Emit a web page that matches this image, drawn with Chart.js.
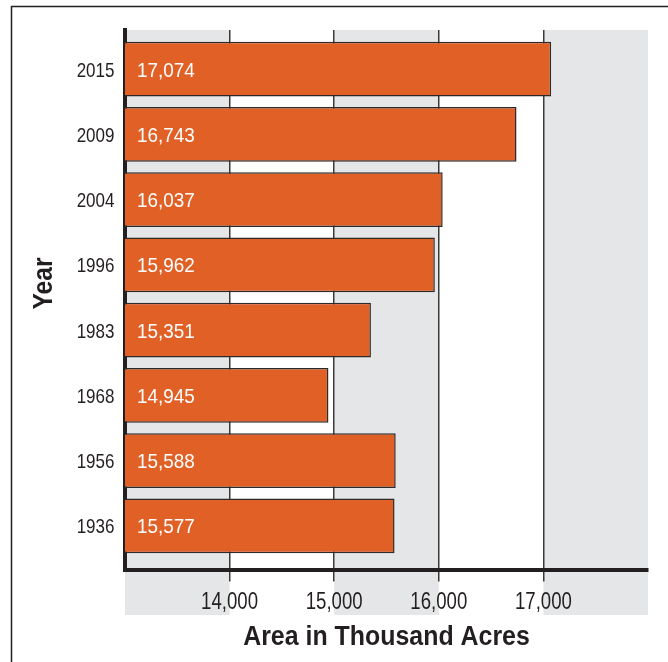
<!DOCTYPE html>
<html>
<head>
<meta charset="utf-8">
<script src="https://cdn.jsdelivr.net/npm/chart.js@4"></script>
<style>
  html, body { margin: 0; padding: 0; background: #fff; }
  #wrap { width: 668px; height: 662px; position: relative; }
</style>
</head>
<body>
<div id="wrap"><canvas id="c" width="668" height="662"></canvas></div>
<script>
const years = ['2015', '2009', '2004', '1996', '1983', '1968', '1956', '1936'];
const areas = [17074, 16743, 16037, 15962, 15351, 14945, 15588, 15577];
const xTicks = [14000, 15000, 16000, 17000];
const xTitle = 'Area in Thousand Acres';
const yTitle = 'Year';

const FONT = '"Liberation Sans", Arial, sans-serif';
const DARK = '#231f20';
const BAND = '#e5e6e8';

// draw horizontally condensed text (Arial-Narrow look)
function narrowText(ctx, text, x, y, opts) {
  const size = opts.size, sx = opts.sx || 0.81;
  ctx.save();
  ctx.font = (opts.bold ? 'bold ' : '') + size + 'px ' + FONT;
  ctx.fillStyle = opts.color || DARK;
  ctx.textAlign = opts.align || 'left';
  ctx.textBaseline = 'alphabetic';
  ctx.translate(x, y);
  if (opts.rotate) ctx.rotate(opts.rotate);
  ctx.scale(sx, 1);
  ctx.fillText(text, 0, 0);
  ctx.restore();
}

const decorPlugin = {
  id: 'decor',
  beforeDraw(chart) {
    const ctx = chart.ctx, ca = chart.chartArea, xs = chart.scales.x;
    ctx.save();
    ctx.fillStyle = '#fff';
    ctx.fillRect(0, 0, chart.width, chart.height);
    ctx.fillStyle = BAND;
    const edges = [xs.min].concat(xTicks).concat([xs.max]);
    for (let i = 0; i < edges.length - 1; i += 2) {
      const a = xs.getPixelForValue(edges[i]);
      const b = xs.getPixelForValue(edges[i + 1]);
      ctx.fillRect(a, ca.top, b - a, 615 - ca.top);
    }
    ctx.strokeStyle = DARK;
    ctx.lineWidth = 1.5;
    ctx.beginPath();
    ctx.moveTo(11.5, chart.height);
    ctx.lineTo(11.5, 6.5);
    ctx.lineTo(chart.width, 6.5);
    ctx.stroke();
    ctx.restore();
  },
  afterDraw(chart) {
    const ctx = chart.ctx, xs = chart.scales.x, ys = chart.scales.y, ca = chart.chartArea;
    const baseX = xs.getPixelForValue(xs.min);
    // bar value labels
    areas.forEach((v, i) => {
      narrowText(ctx, v.toLocaleString('en-US'), baseX + 12, ys.getPixelForValue(i) + 7.5,
        { size: 21, sx: 0.9, color: '#ffffff' });
    });
    // y tick labels
    years.forEach((yr, i) => {
      narrowText(ctx, yr, ca.left - 10.5, ys.getPixelForValue(i) + 7.5, { size: 21, sx: 0.81, align: 'right' });
    });
    // x tick labels
    xTicks.forEach(v => {
      narrowText(ctx, v.toLocaleString('en-US'), xs.getPixelForValue(v), 608.5, { size: 23, sx: 0.81, align: 'center' });
    });
    // axis titles
    narrowText(ctx, xTitle, (ca.left + ca.right) / 2, 645, { size: 28, sx: 0.89, bold: true, align: 'center' });
    narrowText(ctx, yTitle, 52, 283.5, { size: 28, sx: 0.88, bold: true, align: 'center', rotate: -Math.PI / 2 });
  }
};

new Chart(document.getElementById('c'), {
  type: 'bar',
  data: {
    datasets: [{
      data: areas.map((v, i) => ({ x: v, y: i })),
      backgroundColor: '#e06026',
      borderColor: '#2e2a2a',
      borderWidth: 1.5,
      borderSkipped: false,
      barPercentage: 0.84,
      categoryPercentage: 1
    }]
  },
  options: {
    indexAxis: 'y',
    responsive: false,
    animation: false,
    events: [],
    layout: { padding: { top: 30, right: 20, left: 0, bottom: 0 } },
    plugins: { legend: { display: false }, tooltip: { enabled: false } },
    scales: {
      x: {
        type: 'linear',
        position: 'bottom',
        min: 13000,
        max: 18000,
        offset: false,
        afterFit(s) { s.height = 92.5; },
        afterBuildTicks(s) { s.ticks = [13000].concat(xTicks).concat([18000]).map(v => ({ value: v })); },
        grid: {
          color: c => (c.tick && xTicks.includes(c.tick.value)) ? '#3a3a3a' : 'rgba(0,0,0,0)',
          lineWidth: 1.5,
          tickLength: 12,
          drawOnChartArea: true,
          offset: false
        },
        border: { display: true, color: DARK, width: 4 },
        ticks: { display: false },
        title: { display: false }
      },
      y: {
        type: 'linear',
        reverse: true,
        min: -0.6,
        max: 7.67,
        offset: false,
        afterFit(s) { s.width = 125; },
        afterBuildTicks(s) { s.ticks = years.map((_, i) => ({ value: i })); },
        grid: { display: false, drawTicks: false, offset: false },
        border: { display: true, color: DARK, width: 4 },
        ticks: { display: false },
        title: { display: false }
      }
    }
  },
  plugins: [decorPlugin]
});
</script>
</body>
</html>
